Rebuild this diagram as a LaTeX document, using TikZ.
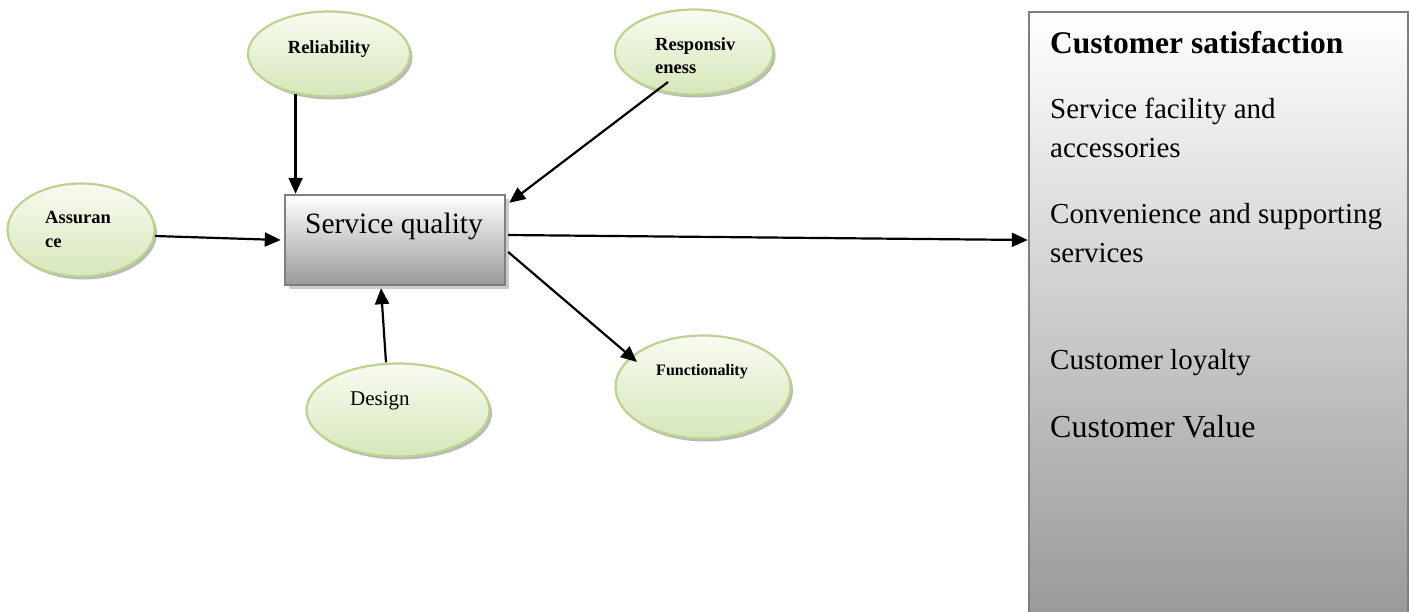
\documentclass[tikz,border=0pt]{standalone}
\usepackage{fontspec}
\setmainfont{Liberation Serif}
\usetikzlibrary{arrows.meta,shadows,calc,shapes.geometric}
\definecolor{ellborder}{HTML}{BCD38F}
\definecolor{elltop}{HTML}{F8FBF1}
\definecolor{ellbot}{HTML}{D6E7BA}
\definecolor{boxborder}{HTML}{7F7F7F}
\definecolor{boxbot}{HTML}{999999}
\tikzset{
  ell/.style={ellipse, draw=ellborder, line width=2.2pt, top color=elltop, bottom color=ellbot,
    inner sep=0pt, drop shadow={shadow xshift=2.5pt, shadow yshift=-3pt, fill=black!50, opacity=0.55}},
  lbl/.style={inner sep=0pt, font=\bfseries\fontsize{18.5}{23}\selectfont},
  flbl/.style={inner sep=0pt, font=\bfseries\fontsize{16}{20}\selectfont},
  dlbl/.style={inner sep=0pt, font=\fontsize{21}{25}\selectfont},
  sqbox/.style={rectangle, draw=boxborder, line width=2.4pt, top color=white, bottom color=boxbot,
    minimum width=220pt, minimum height=90pt, inner sep=0pt,
    drop shadow={shadow xshift=4pt, shadow yshift=-4pt, fill=black!25, opacity=0.8}},
  csbox/.style={rectangle, draw=boxborder, line width=2.4pt, top color=white, bottom color=boxbot,
    minimum width=379pt, minimum height=605pt, inner sep=0pt},
  cstext/.style={inner sep=0pt, anchor=base west, font=\fontsize{29}{35}\selectfont},
  arr/.style={line width=2.2pt, -{Triangle[length=16pt,width=14pt]}}
}
\begin{document}
\begin{tikzpicture}[x=1pt,y=-1pt]
\useasboundingbox (0,0) rectangle (1410,611);

% ellipses
\node[ell, minimum width=162pt, minimum height=85pt] (rel) at (329,54) {};
\node[lbl, anchor=base] (relt) at (329,53) {Reliability};

\node[ell, minimum width=158pt, minimum height=85pt] (resp) at (694,52) {};
\node[lbl, anchor=base west] (respt1) at (655,50) {Responsiv};
\node[lbl, anchor=base west] (respt2) at (655,73) {eness};

\node[ell, minimum width=147pt, minimum height=93pt] (ass) at (81,230) {};
\node[lbl, anchor=base west] (asst1) at (45,223) {Assuran};
\node[lbl, anchor=base west] (asst2) at (45,247) {ce};

\node[ell, minimum width=183pt, minimum height=93pt] (des) at (398,410) {};
\node[dlbl, anchor=base west] (dest) at (350,405) {Design};

\node[ell, minimum width=175pt, minimum height=103pt] (fun) at (703,387) {};
\node[flbl, anchor=base] (funt) at (702,375) {Functionality};

% service quality box
\node[sqbox] (sq) at (395,240) {};
\node[inner sep=0pt, anchor=base, font=\fontsize{29.5}{35}\selectfont] (sqt) at (394,233) {Service quality};

% customer satisfaction box
\node[csbox] (cs) at (1218.5,314.5) {};
\node[cstext, font=\bfseries\fontsize{31.5}{36}\selectfont] (cs0) at (1050,53) {Customer satisfaction};
\node[cstext] (cs1) at (1050,118) {Service facility and};
\node[cstext] (cs2) at (1050,157) {accessories};
\node[cstext] (cs3) at (1050,223) {Convenience and supporting};
\node[cstext] (cs4) at (1050,262) {services};
\node[cstext] (cs5) at (1050,369) {Customer loyalty};
\node[cstext, font=\fontsize{32}{36}\selectfont] (cs6) at (1050,437) {Customer Value};

% connectors
\draw[arr] (rel.230) -- (rel.230 |- sq.north);
\draw[arr] ($(resp.center)+(-26,30)$) -- ($(sq.north east)+(3,9)$);
\draw[arr] ($(ass.center)+(74,6)$) -- ($(sq.west)+(-3,0)$);
\draw[arr] ($(des.north)+(-12,0)$) -- ($(sq.south)+(-14,2)$);
\draw[arr] ($(sq.east)+(2,12)$) -- ($(fun.center)+(-66,-25)$);
\draw[arr] ($(sq.east)+(2,-5)$) -- (cs.west |- sq.east);
\end{tikzpicture}
\end{document}
